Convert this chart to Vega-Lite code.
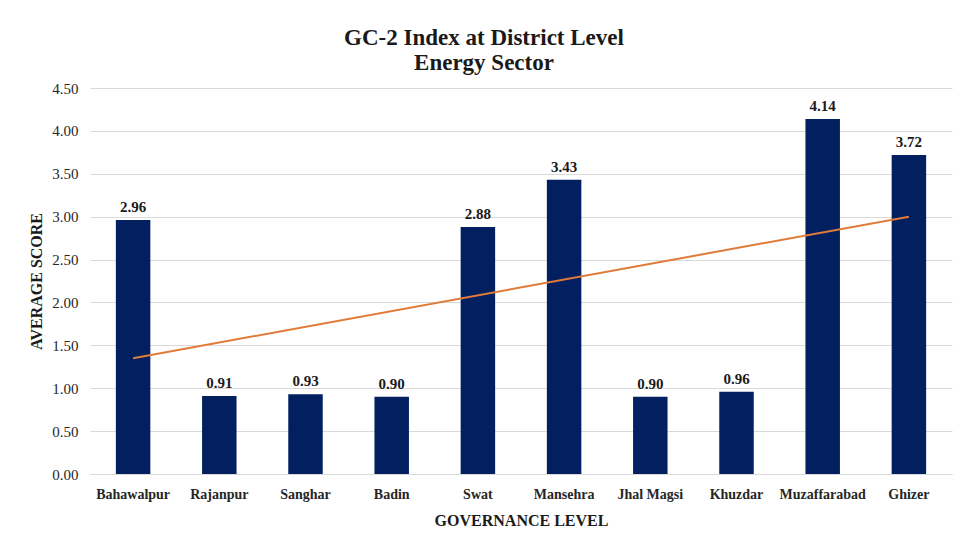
{
  "$schema": "https://vega.github.io/schema/vega-lite/v6.json",
  "width": 862,
  "height": 386,
  "autosize": "none",
  "padding": {"left": 90, "top": 88, "right": 15, "bottom": 69},
  "background": "white",
  "title": {
    "text": ["GC-2 Index at District Level", "Energy Sector"],
    "font": "Liberation Serif, Times New Roman, serif",
    "fontSize": 23,
    "fontWeight": "bold",
    "color": "#1a1a1a",
    "lineHeight": 25,
    "anchor": "middle",
    "dx": -37,
    "offset": 6
  },
  "data": {
    "values": [
      {"district": "Bahawalpur", "score": 2.96, "trend": 1.35},
      {"district": "Rajanpur", "score": 0.91},
      {"district": "Sanghar", "score": 0.93},
      {"district": "Badin", "score": 0.90},
      {"district": "Swat", "score": 2.88},
      {"district": "Mansehra", "score": 3.43},
      {"district": "Jhal Magsi", "score": 0.90},
      {"district": "Khuzdar", "score": 0.96},
      {"district": "Muzaffarabad", "score": 4.14},
      {"district": "Ghizer", "score": 3.72, "trend": 3.0}
    ]
  },
  "encoding": {
    "x": {
      "field": "district",
      "type": "nominal",
      "sort": null,
      "scale": {"paddingInner": 0.6, "paddingOuter": 0.3},
      "axis": {
        "title": "GOVERNANCE LEVEL",
        "titleFont": "Liberation Serif, Times New Roman, serif",
        "titleFontSize": 16,
        "titleFontWeight": "bold",
        "titleColor": "#1a1a1a",
        "titlePadding": 11,
        "labelFont": "Liberation Serif, Times New Roman, serif",
        "labelFontSize": 14,
        "labelFontWeight": "bold",
        "labelColor": "#262626",
        "labelAngle": 0,
        "labelPadding": 13,
        "ticks": false,
        "domain": true,
        "domainColor": "#d9d9d9",
        "grid": false
      }
    }
  },
  "layer": [
    {
      "mark": {"type": "bar", "color": "#022060"},
      "encoding": {
        "y": {
          "field": "score",
          "type": "quantitative",
          "scale": {"domain": [0, 4.5], "nice": false},
          "axis": {
            "title": "AVERAGE SCORE",
            "titleFont": "Liberation Serif, Times New Roman, serif",
            "titleFontSize": 16,
            "titleFontWeight": "bold",
            "titleColor": "#1a1a1a",
            "titlePadding": 7,
            "values": [0, 0.5, 1, 1.5, 2, 2.5, 3, 3.5, 4, 4.5],
            "format": ".2f",
            "labelFont": "Liberation Serif, Times New Roman, serif",
            "labelFontSize": 15,
            "labelColor": "#262626",
            "labelPadding": 12,
            "ticks": false,
            "domain": false,
            "grid": true,
            "gridColor": "#d9d9d9",
            "gridWidth": 1
          }
        }
      }
    },
    {
      "mark": {
        "type": "text",
        "baseline": "bottom",
        "dy": -5,
        "font": "Liberation Serif, Times New Roman, serif",
        "fontSize": 15,
        "fontWeight": "bold",
        "color": "#1a1a1a"
      },
      "encoding": {
        "y": {"field": "score", "type": "quantitative"},
        "text": {"field": "score", "type": "quantitative", "format": ".2f"}
      }
    },
    {
      "transform": [{"filter": "datum.trend != null"}],
      "mark": {"type": "line", "color": "#E07B39", "strokeWidth": 2},
      "encoding": {
        "y": {"field": "trend", "type": "quantitative"}
      }
    }
  ],
  "config": {"view": {"stroke": null}}
}
